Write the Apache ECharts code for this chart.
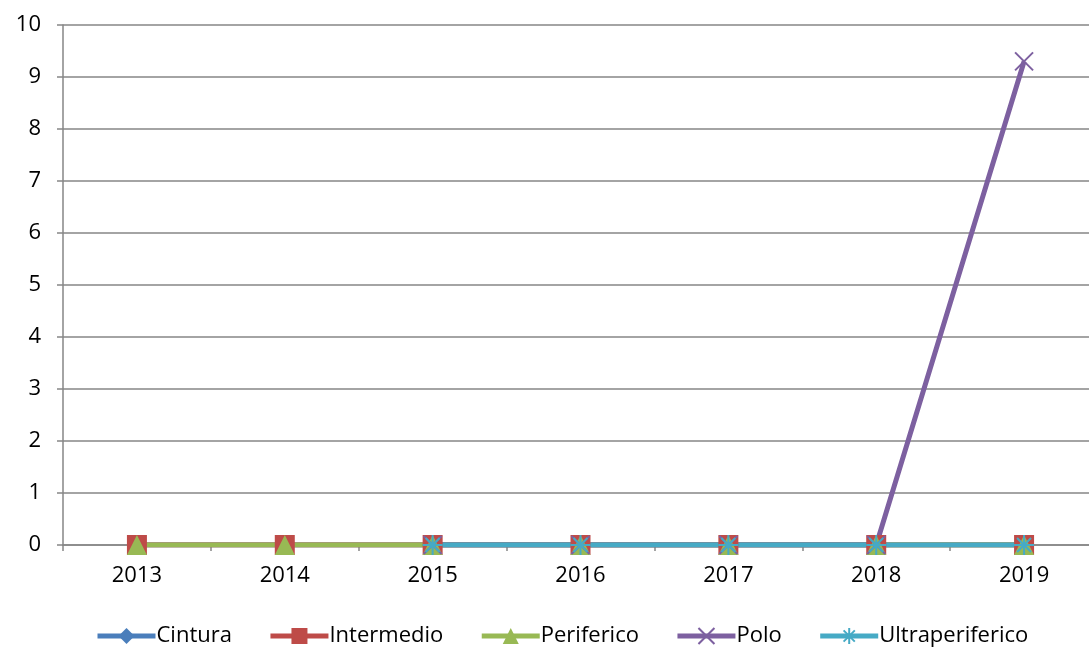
<!DOCTYPE html>
<html>
<head>
<meta charset="utf-8">
<script src="https://cdn.jsdelivr.net/npm/echarts@6/dist/echarts.min.js"></script>
<style>
  html, body { margin: 0; padding: 0; background: #fff; }
  #chart { width: 1089px; height: 648px; }
</style>
</head>
<body>
<div id="chart"></div>
<script>
const years = ['2013', '2014', '2015', '2016', '2017', '2018', '2019']
const cintura = [0, 0, 0, 0, 0, 0, 0]
const intermedio = [0, 0, 0, 0, 0, 0, 0]
const periferico = [0, 0, 0, 0, 0, 0, 0]
const polo = [null, null, 0, 0, 0, 0, 9.3]
const ultraperiferico = [null, null, 0, 0, 0, 0, 0]

const FONT = '"Open Sans", "Noto Sans", sans-serif'
const XMARK = 'path://M0,0L10,10M10,0L0,10'
const STAR = 'path://M5,0L5,10M0,5L10,5M1.5,1.5L8.5,8.5M8.5,1.5L1.5,8.5'

function lineSeries(name, data, color, symbol, size, stroked) {
  return {
    name,
    type: 'line',
    data,
    symbol,
    symbolSize: size,
    showAllSymbol: true,
    lineStyle: { color, width: 5 },
    itemStyle: stroked
      ? { color: 'rgba(0,0,0,0)', borderColor: color, borderWidth: 2 }
      : { color, borderWidth: 0 },
    emphasis: { disabled: true },
  }
}

const chart = echarts.init(document.getElementById('chart'), undefined, { renderer: 'canvas' })
chart.setOption({
  animation: false,
  grid: { left: 63, top: 25, width: 1035, bottom: 103, outerBoundsMode: 'none' },
  xAxis: {
    type: 'category',
    data: years,
    boundaryGap: true,
    axisLine: { lineStyle: { color: '#868686', width: 1.5 } },
    axisTick: { show: true, length: 6, lineStyle: { color: '#868686', width: 1.5 } },
    axisLabel: { color: '#000', fontSize: 22, fontFamily: FONT, margin: 20 },
  },
  yAxis: {
    type: 'value',
    min: 0,
    max: 10,
    interval: 1,
    axisLine: { show: true, lineStyle: { color: '#868686', width: 1.5 } },
    axisTick: { show: true, length: 6, lineStyle: { color: '#868686', width: 1.5 } },
    splitLine: { lineStyle: { color: '#868686', width: 1.5 } },
    axisLabel: { color: '#000', fontSize: 22, fontFamily: FONT, margin: 22 },
  },
  legend: {
    bottom: 1,
    left: 95,
    padding: 0,
    itemWidth: 58,
    itemHeight: 20,
    itemGap: 36,
    lineStyle: { width: 5 },
    textStyle: { color: '#000', fontSize: 22, fontFamily: FONT, padding: [0, 0, 0, -4] },
  },
  series: [
    lineSeries('Cintura', cintura, '#4A7EBB', 'diamond', 18, false),
    lineSeries('Intermedio', intermedio, '#BE4B48', 'rect', 20, false),
    lineSeries('Periferico', periferico, '#98B954', 'triangle', 20, false),
    lineSeries('Polo', polo, '#7D60A0', XMARK, 18, true),
    lineSeries('Ultraperiferico', ultraperiferico, '#46AAC5', STAR, 20, true),
  ],
})
</script>
</body>
</html>
